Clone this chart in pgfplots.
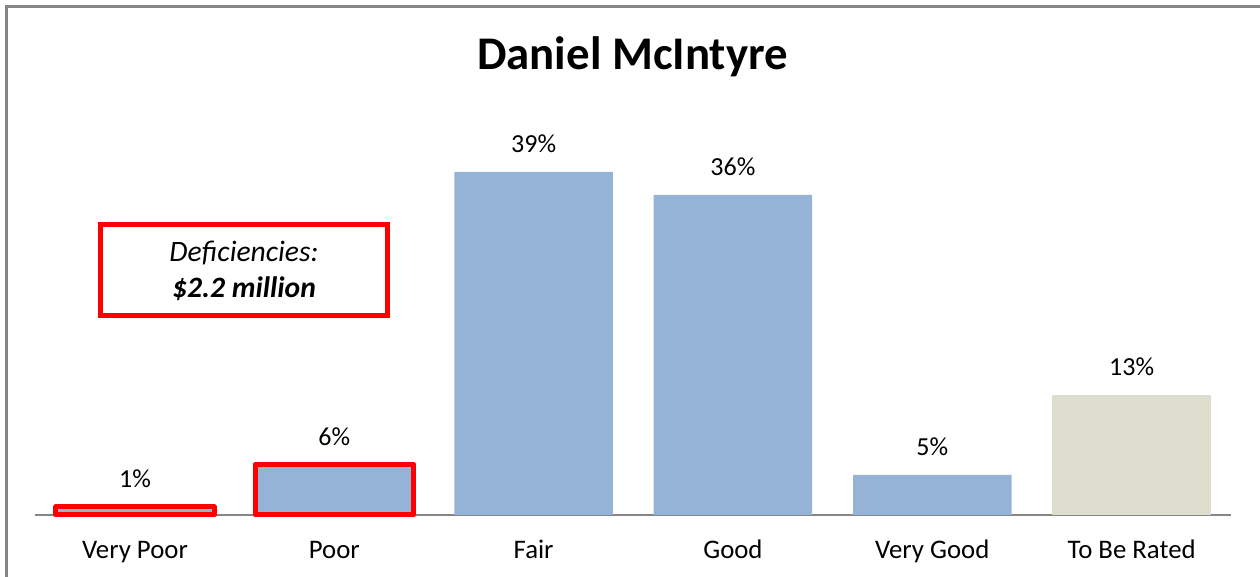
\documentclass[border=0pt]{standalone}
\usepackage{fontspec}
\setmainfont{Carlito}
\usepackage{pgfplots}
\pgfplotsset{compat=1.18}
\definecolor{barblue}{HTML}{95B3D7}
\definecolor{bartan}{HTML}{DCDDCD}
\definecolor{framegray}{HTML}{868686}
\definecolor{boxred}{HTML}{FF0000}

\begin{document}
% 1 unit = 1 pixel of the 1260x577 reference
\begin{tikzpicture}[x=0.5pt,y=0.5pt]
\useasboundingbox (0,0) rectangle (1260,577);
\begin{scope}
\clip (0,0) rectangle (1260,577);
\draw[framegray, line width=1.3pt] (6.5,-20) -- (6.5,570.5) -- (1290,570.5);
\end{scope}

\node[anchor=base, font=\fontsize{23.4}{26}\selectfont\bfseries] at (632.5,507) {Daniel McIntyre};

\begin{axis}[
  at={(17.65pt,31pt)}, anchor=south west,
  scale only axis, width=598pt, height=177.8pt,
  xmin=-0.5, xmax=5.5, ymin=0, ymax=40,
  axis x line*=bottom, axis y line=none,
  x axis line style={framegray, line width=1pt, -},
  xtick={0,...,5},
  xticklabels={Very Poor,Poor,Fair,Good,Very Good,To Be Rated},
  xtick style={draw=none},
  xticklabel style={anchor=base, yshift=-17.4pt, font=\fontsize{13.4}{15}\selectfont},
  ybar, bar width=0.795, bar shift=0pt,
  nodes near coords, point meta=explicit symbolic,
  every node near coord/.append style={anchor=base, yshift=9.5pt, inner sep=0pt,
    font=\fontsize{13}{15}\selectfont, text=black},
  clip=false,
]
\addplot[fill=barblue, draw=boxred, line width=2.5pt, line join=round]
  coordinates {(0,0.9)[1\%] (1,5.7)[6\%]};
\addplot[fill=barblue, draw=none]
  coordinates {(2,38.6)[39\%] (3,36.0)[36\%] (4,4.5)[5\%]};
\addplot[fill=bartan, draw=none]
  coordinates {(5,13.5)[13\%]};
\end{axis}

\draw[boxred, line width=2.5pt] (100.5,352.5) rectangle (387.5,261.5);
\node[anchor=base, font=\fontsize{14.8}{17}\selectfont\itshape] at (244,315) {Deficiencies:};
\node[anchor=base, font=\fontsize{14.8}{17}\selectfont\bfseries\itshape] at (244,279) {\$2.2 million};
\end{tikzpicture}
\end{document}
